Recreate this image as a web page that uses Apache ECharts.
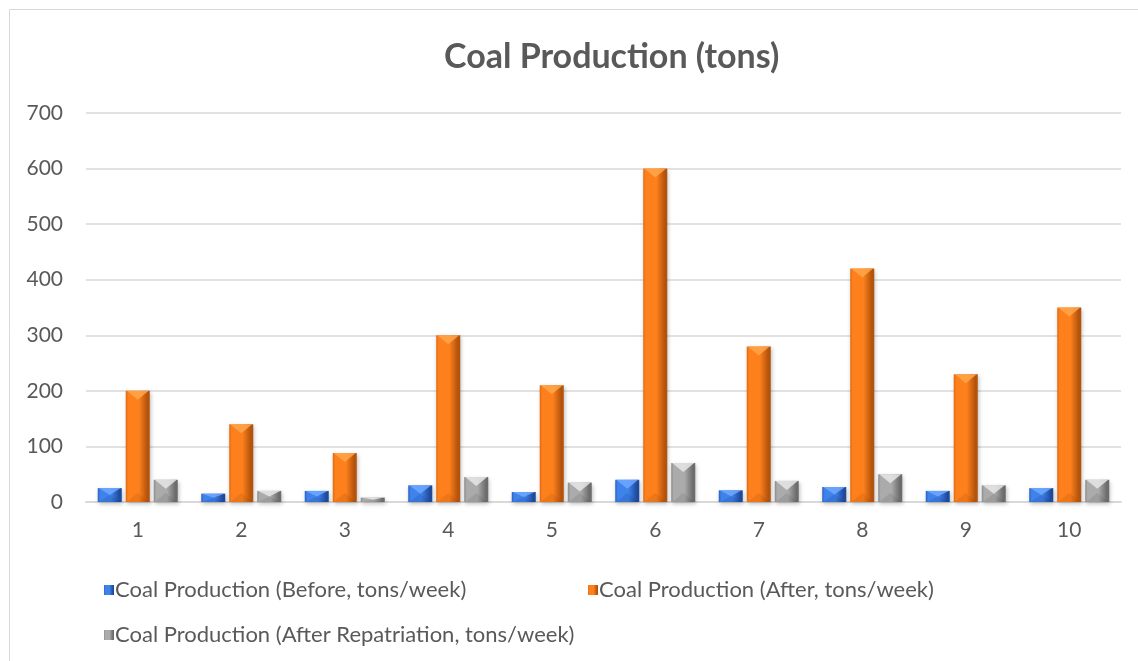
<!DOCTYPE html>
<html><head><meta charset="utf-8">
<script src="https://cdn.jsdelivr.net/npm/echarts@6/dist/echarts.min.js"></script>
<style>html,body{margin:0;padding:0;background:#fff;}#c{width:1138px;height:661px;}</style>
</head><body><div id="c"></div>
<script>
const categories = ['1','2','3','4','5','6','7','8','9','10'];
const seriesNames = ['Coal Production (Before, tons/week)','Coal Production (After, tons/week)','Coal Production (After Repatriation, tons/week)'];
const before = [25, 15, 20, 30, 18, 40, 21, 27, 20, 25];
const after = [200, 140, 88, 300, 210, 600, 280, 420, 230, 350];
const repatriation = [40, 20, 8, 45, 35, 70, 38, 50, 30, 40];
const yTicks = {min: 0, max: 700, interval: 100};

const FONT = 'Lato';
const BAR_W = 24, BAR_GAP = 4;
function grad(l, m, r) {
  return new echarts.graphic.LinearGradient(0, 0, 1, 0, [
    {offset: 0, color: l}, {offset: 0.1, color: m}, {offset: 0.55, color: m}, {offset: 0.9, color: r}, {offset: 1, color: r}
  ]);
}
const styles = [
  grad('#2a5fc0', '#3f82ea', '#1f4a9c'),
  grad('#e0680f', '#fd801c', '#b3530c'),
  grad('#8a8a8a', '#ababab', '#6c6c6c')
];
const topColors = ['#6fa8ff', '#ffa64a', '#e6e6e6'];
const bottomColors = ['rgba(20,50,120,0.15)', 'rgba(140,60,10,0.14)', 'rgba(60,60,60,0.12)'];
const data = [before, after, repatriation];

const bevelData = [];
data.forEach((arr, s) => arr.forEach((v, i) => bevelData.push([i, v, s])));

function renderBevel(params, api) {
  const i = api.value(0), v = api.value(1), s = api.value(2);
  const top = api.coord([i, v]);
  const base = api.coord([i, 0]);
  const cx = top[0] + (s - 1) * (BAR_W + BAR_GAP);
  const l = cx - BAR_W / 2, r = cx + BAR_W / 2;
  const h = base[1] - top[1];
  const d = Math.min(9, h / 2);
  return {type: 'group', children: [
    {type: 'polygon', shape: {points: [[l + 1, top[1]], [r - 1, top[1]], [cx, top[1] + d]]},
      style: {fill: topColors[s], opacity: 0.85}},
    {type: 'polygon', shape: {points: [[l + 1, base[1]], [r - 1, base[1]], [cx, base[1] - d]]},
      style: {fill: bottomColors[s]}}
  ]};
}

const chart = echarts.init(document.getElementById('c'));
chart.setOption({
  animation: false,
  backgroundColor: '#fff',
  title: {text: 'Coal Production (tons)', left: 439, top: 35,
    textStyle: {fontFamily: FONT, fontSize: 34, fontWeight: 'bold', color: '#595959'}},
  graphic: [{type: 'rect', shape: {x: 9.5, y: 9.5, width: 1140, height: 670},
    style: {fill: 'none', stroke: '#d9d9d9', lineWidth: 1}}],
  legend: [
    {data: [seriesNames[0]], left: 99, top: 574},
    {data: [seriesNames[1]], left: 583, top: 574},
    {data: [seriesNames[2]], left: 99, top: 619}
  ].map(l => Object.assign(l, {itemWidth: 10, itemHeight: 10, itemGap: 4, icon: 'rect',
    textStyle: {fontFamily: FONT, fontSize: 22, color: '#595959', padding: [0, 0, 0, -4]}})),
  grid: {left: 86, right: 17, top: 113, bottom: 159, containLabel: false},
  xAxis: {type: 'category', data: categories,
    axisLine: {lineStyle: {color: '#d9d9d9', width: 2}}, axisTick: {show: false},
    axisLabel: {fontFamily: FONT, fontSize: 21, color: '#595959', margin: 18}},
  yAxis: {type: 'value', min: yTicks.min, max: yTicks.max, interval: yTicks.interval,
    axisLine: {show: false}, axisTick: {show: false},
    splitLine: {lineStyle: {color: '#d9d9d9', width: 1.5}},
    axisLabel: {fontFamily: FONT, fontSize: 21, color: '#595959', margin: 23}},
  series: data.map((d, i) => ({
    name: seriesNames[i], type: 'bar', data: d, barWidth: BAR_W, barGap: (BAR_GAP / BAR_W * 100) + '%',
    itemStyle: {color: styles[i], shadowColor: 'rgba(0,0,0,0.25)', shadowBlur: 4, shadowOffsetY: 2, shadowOffsetX: 1}
  })).concat([{
    type: 'custom', data: bevelData, renderItem: renderBevel, silent: true, z: 3,
    encode: {x: 0, y: 1}
  }])
});
</script></body></html>
